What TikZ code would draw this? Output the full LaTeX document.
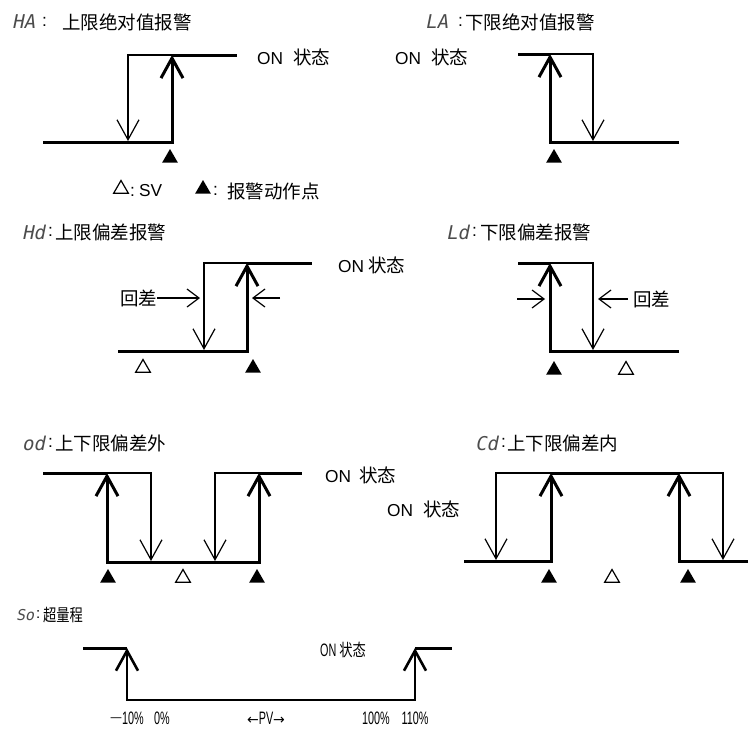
\documentclass[tikz,border=0pt]{standalone}
\usepackage{fontspec}
\setmainfont{Liberation Sans}
\newfontfamily\cjk{Noto Sans CJK SC}
\newfontfamily\cjkn[FakeStretch=0.78]{Noto Sans CJK SC}
\newfontfamily\latn[FakeStretch=0.6]{Liberation Sans}
\newfontfamily\segf[FakeSlant=0.2]{DejaVu Sans Mono}
\newfontfamily\symf{DejaVu Sans}
\usetikzlibrary{arrows.meta,shapes.geometric}
\newcommand\zh[1]{{\fontsize{18.5}{20}\selectfont\cjk #1}}
\newcommand\zhn[1]{{\fontsize{17}{20}\selectfont\cjkn #1}}
\begin{document}
\begin{tikzpicture}[x=1pt,y=-1pt,
  thickline/.style={line width=3pt},
  midline/.style={line width=2.6pt},
  thinline/.style={line width=1.2pt},
  uparr/.style={-{Straight Barb[length=20pt,width=22pt]}},
  downarr/.style={-{Straight Barb[length=20pt,width=22pt]}},
  hyarr/.style={thinline,-{Straight Barb[length=12pt,width=18pt]}},
  txt/.style={inner sep=0pt,anchor=west,font=\fontsize{18.5}{20}\selectfont\cjk},
  lat/.style={inner sep=0pt,anchor=west,font=\fontsize{17.3}{20}\selectfont},
  seg/.style={inner sep=0pt,anchor=west,text=black!70,font=\fontsize{19}{20}\selectfont\segf},
  small/.style={inner sep=0pt,anchor=center,font=\fontsize{18}{20}\selectfont\latn},
  ftri/.style={regular polygon,regular polygon sides=3,minimum size=18pt,inner sep=0pt,fill=black},
  otri/.style={regular polygon,regular polygon sides=3,minimum size=17pt,inner sep=0pt,draw=black,line width=1.2pt},
]
\useasboundingbox (0,0) rectangle (749,728);

% ---------- HA ----------
\node[seg] (haL) at (12,22) {HA};
\node[lat] (haC) at (42,22) {:};
\node[txt] (haT) at (62,22) {上限绝对值报警};
\draw[thinline,downarr] (172,55) -- (128,55) -- (128,141);
\draw[thickline,uparr] (43,142) -- (172,142) -- (172,55);
\draw[thickline] (172,55) -- (237,55);
\node[ftri] (haM) at (170,158) {};
\node[lat] (haON) at (257,57) {ON\hspace{10pt}\zh{状态}};

% legend
\node[otri] (lgO) at (121,189) {};
\node[lat] (lgS) at (130,191) {:\hspace{4pt}SV};
\node[ftri] (lgF) at (203,189) {};
\node[lat] (lgC) at (213,191) {:};
\node[txt] (lgT) at (227,191) {报警动作点};

% ---------- LA ----------
\node[seg] (laL) at (425,22) {LA};
\node[lat] (laC) at (458,22) {:};
\node[txt] (laT) at (465,22) {下限绝对值报警};
\node[lat] (laON) at (395,57) {ON\hspace{10pt}\zh{状态}};
\draw[thinline,downarr] (550,54) -- (593,54) -- (593,141);
\draw[thickline] (518,54) -- (550,54);
\draw[thickline,uparr] (679,142) -- (550,142) -- (550,54);
\node[ftri] (laM) at (554,158) {};

% ---------- Hd ----------
\node[seg] (hdL) at (22,232) {Hd};
\node[lat] (hdC) at (48,232) {:};
\node[txt] (hdT) at (55,232) {上限偏差报警};
\draw[thinline,downarr] (247,263) -- (204,263) -- (204,350);
\draw[thickline,uparr] (118,351) -- (247,351) -- (247,263);
\draw[thickline] (247,263) -- (312,263);
\node[txt] (hdH) at (120,298) {回差};
\coordinate (hdA1) at (200,298);
\coordinate (hdA2s) at (280,298);
\coordinate (hdA2) at (252,298);
\draw[hyarr] (hdH.east) -- (hdA1);
\draw[hyarr] (hdA2s) -- (hdA2);
\node[otri] (hdO) at (143,368) {};
\node[ftri] (hdM) at (253,368) {};
\node[lat] (hdON) at (338,265) {ON\hspace{4pt}\zh{状态}};

% ---------- Ld ----------
\node[seg] (ldL) at (446,232) {Ld};
\node[lat] (ldC) at (472,232) {:};
\node[txt] (ldT) at (480,232) {下限偏差报警};
\draw[thinline,downarr] (550,263) -- (593,263) -- (593,350);
\draw[thickline] (518,263) -- (550,263);
\draw[thickline,uparr] (679,351) -- (550,351) -- (550,263);
\coordinate (ldA1s) at (517,299);
\coordinate (ldA1) at (545,299);
\draw[hyarr] (ldA1s) -- (ldA1);
\node[txt] (ldH) at (633,299) {回差};
\coordinate (ldA2) at (598,299);
\draw[hyarr] ([xshift=-5pt]ldH.west) -- (ldA2);
\node[ftri] (ldM) at (554,370) {};
\node[otri] (ldO) at (626,370) {};

% ---------- od ----------
\node[seg] (odL) at (22,443) {od};
\node[lat] (odC) at (48,443) {:};
\node[txt] (odT) at (55,443) {上下限偏差外};
\draw[thinline,downarr] (107,473) -- (151,473) -- (151,561);
\draw[thinline,downarr] (259,473) -- (215,473) -- (215,561);
\draw[thickline] (43,473) -- (107,473);
\draw[thickline] (259,473) -- (302,473);
\draw[thickline,uparr] (183,562) -- (107,562) -- (107,473);
\draw[thickline,uparr] (183,562) -- (259,562) -- (259,473);
\node[ftri] (odM1) at (108,578) {};
\node[otri] (odO) at (183,578) {};
\node[ftri] (odM2) at (257,578) {};
\node[lat] (odON) at (325,475) {ON\hspace{8pt}\zh{状态}};

% ---------- Cd ----------
\node[seg] (cdL) at (475,443) {Cd};
\node[lat] (cdC) at (501,443) {:};
\node[txt] (cdT) at (507,443) {上下限偏差内};
\node[lat] (cdON) at (387,509) {ON\hspace{10pt}\zh{状态}};
\draw[thinline,downarr] (551,473) -- (496,473) -- (496,560);
\draw[thinline,downarr] (679,473) -- (723,473) -- (723,560);
\draw[thickline,uparr] (464,561) -- (551,561) -- (551,473);
\draw[thickline,uparr] (748,561) -- (679,561) -- (679,473);
\draw[thickline] (551,473) -- (679,473);
\node[ftri] (cdM1) at (549,578) {};
\node[otri] (cdO) at (612,578) {};
\node[ftri] (cdM2) at (688,578) {};

% ---------- So ----------
\node[seg,font=\fontsize{15}{20}\selectfont\segf] (soL) at (16,615) {So};
\node[lat,font=\fontsize{15}{20}\selectfont] (soC) at (36,615) {:};
\node[inner sep=0pt,anchor=west] (soT) at (43,615) {\zhn{超量程}};
\draw[thickline] (83,648) -- (127,648);
\draw[thickline] (415,648) -- (452,648);
\draw[midline,uparr] (270,700) -- (127,700) -- (127,648);
\draw[midline,uparr] (270,700) -- (415,700) -- (415,648);
\node[inner sep=0pt,anchor=west,font=\fontsize{18}{20}\selectfont\latn] (soON) at (320,650) {ON\hspace{3pt}\zhn{状态}};
\node[small] (p1) at (127,718) {\raisebox{3pt}{\symf\fontsize{12}{14}\selectfont —}10\%};
\node[small] (p2) at (162,718) {0\%};
\node[small] (p3) at (266,718) {{\symf\fontsize{14}{16}\selectfont ←}PV{\symf\fontsize{14}{16}\selectfont →}};
\node[small] (p4) at (376,718) {100\%};
\node[small] (p5) at (415,718) {110\%};
\end{tikzpicture}
\end{document}
